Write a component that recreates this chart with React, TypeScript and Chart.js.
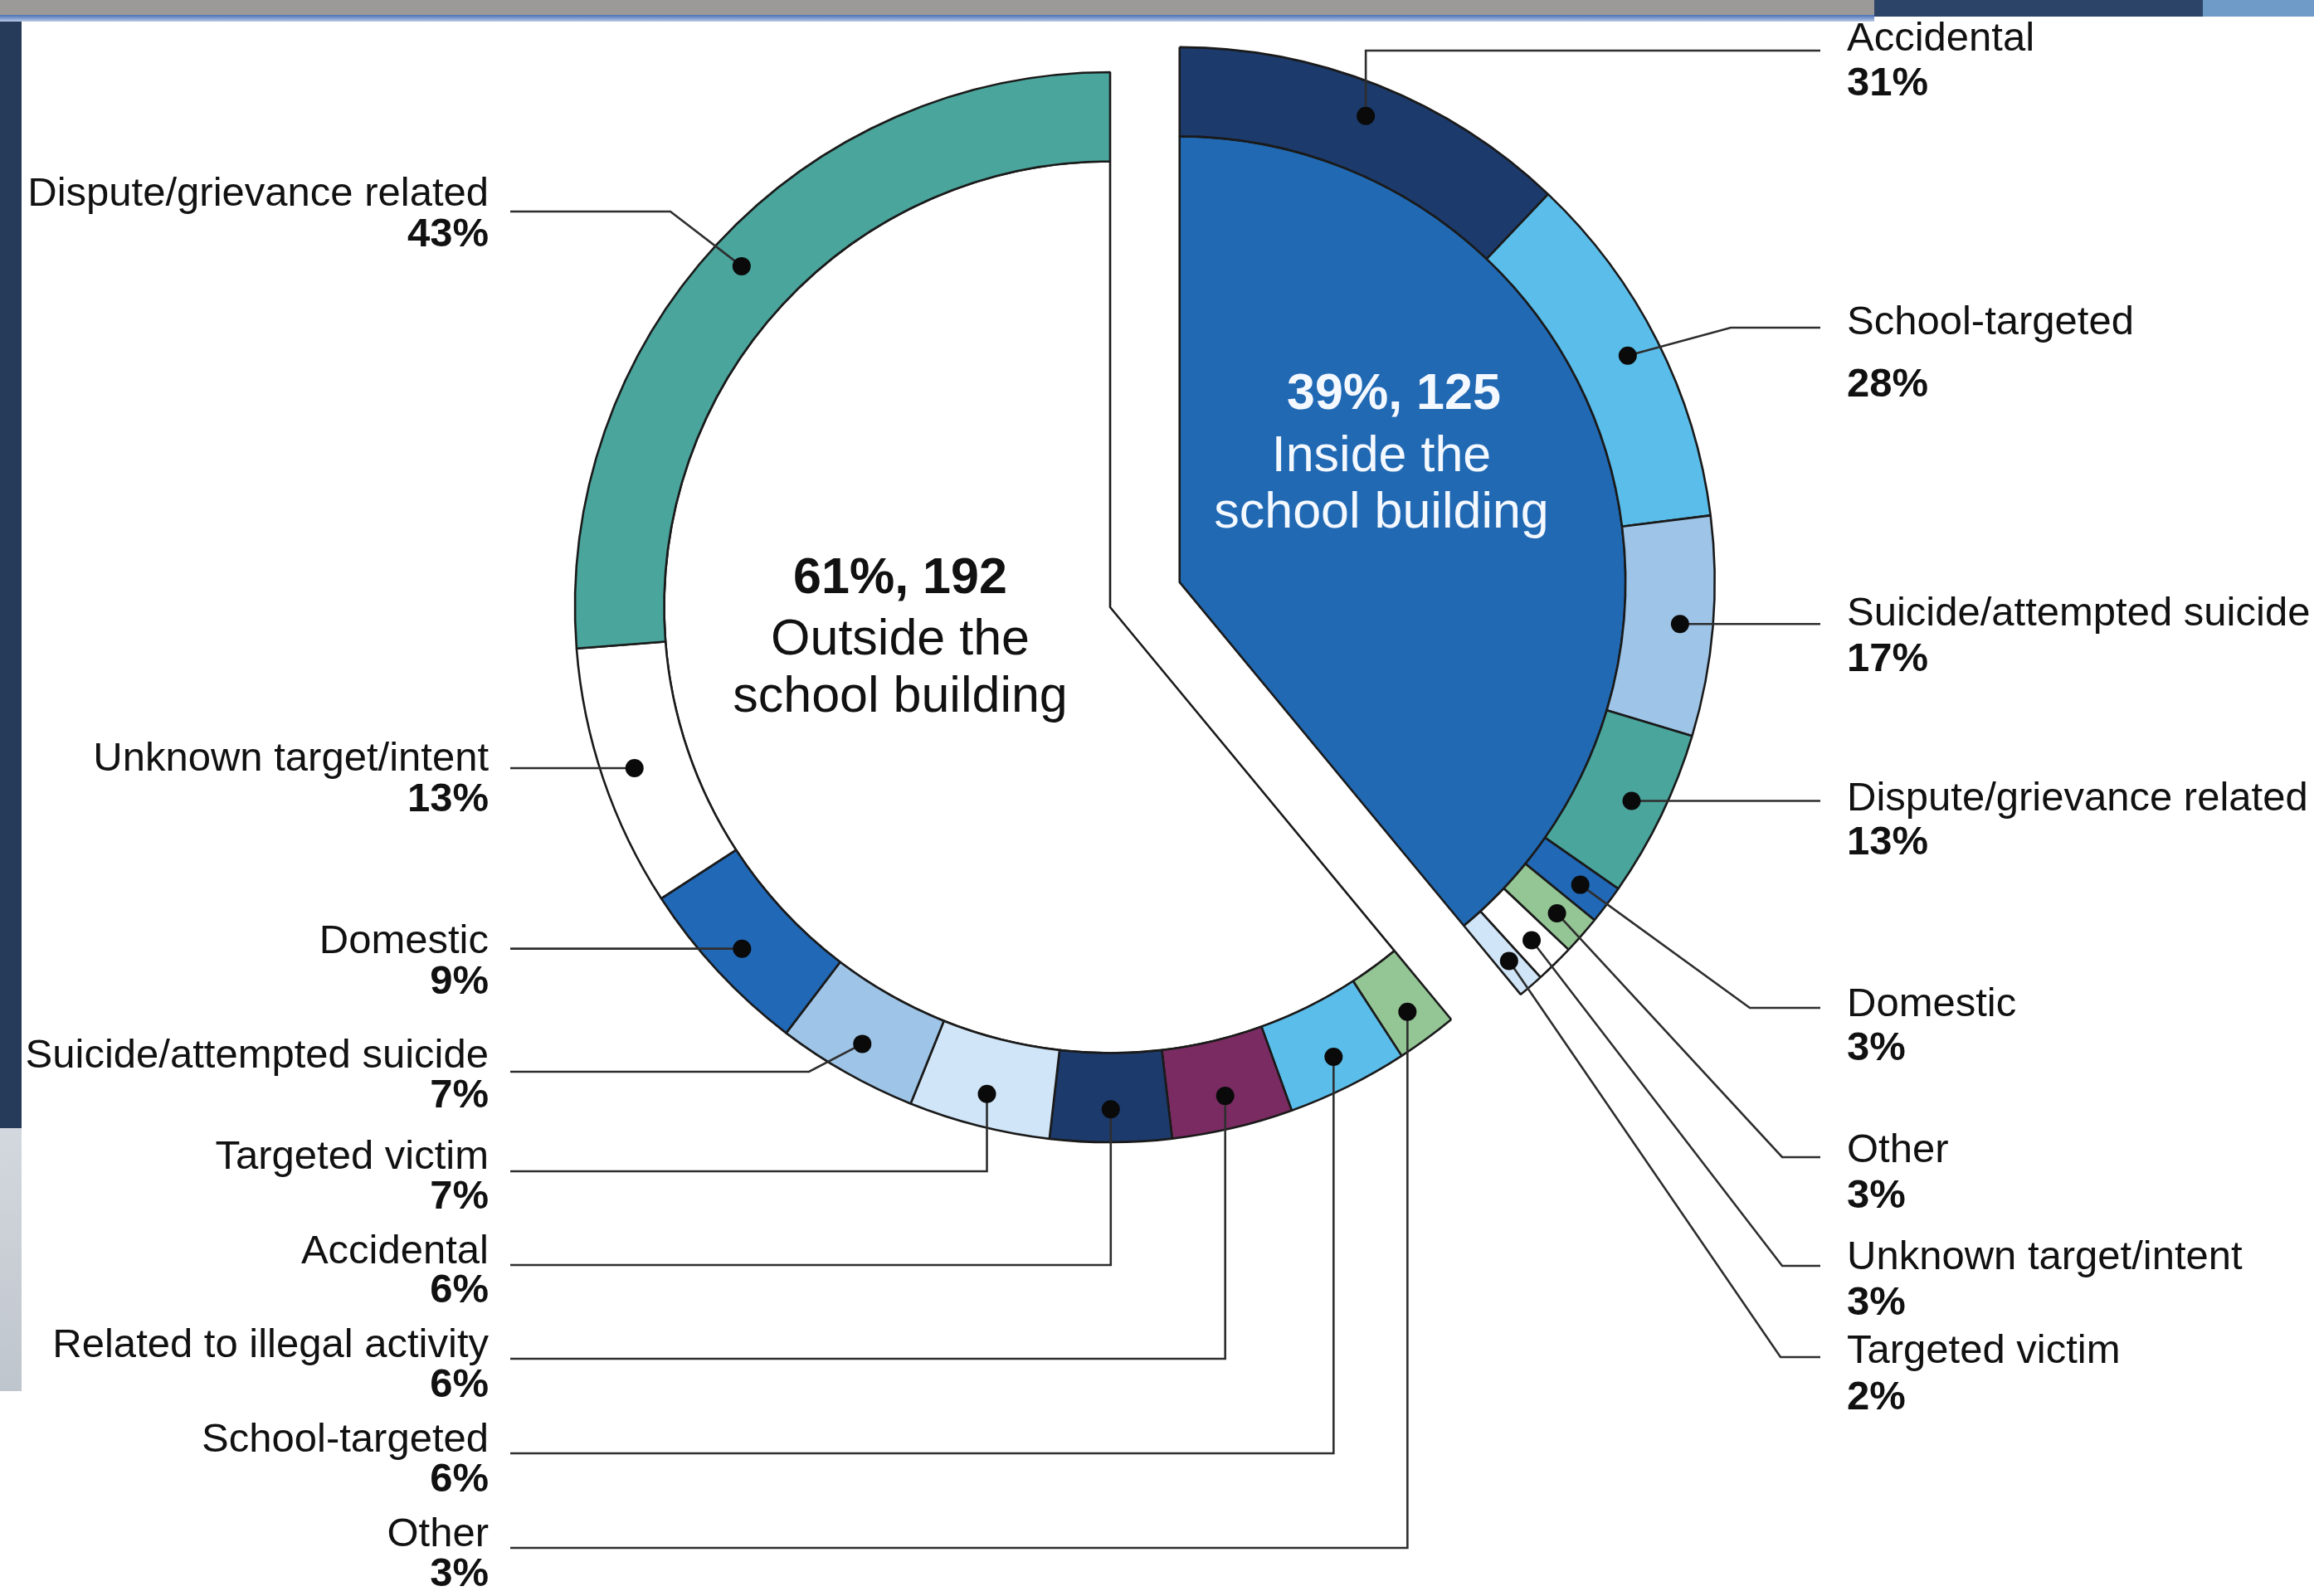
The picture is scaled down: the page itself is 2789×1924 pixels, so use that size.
import React, { useEffect, useRef } from "react";
import { Chart, registerables } from "chart.js";

Chart.register(...registerables);

// ---------------- data ----------------
const groupNames = ["Inside the school building", "Outside the school building"];
const groupPercents = [39, 61];
const groupCounts = [125, 192];

// inside group, clockwise from 12 o'clock
const insideCategories = [
  "Accidental",
  "School-targeted",
  "Suicide/attempted suicide",
  "Dispute/grievance related",
  "Domestic",
  "Other",
  "Unknown target/intent",
  "Targeted victim",
];
const insidePercents = [31, 28, 17, 13, 3, 3, 3, 2];

// outside group, clockwise (continuing after the inside group)
const outsideCategories = [
  "Other",
  "School-targeted",
  "Related to illegal activity",
  "Accidental",
  "Targeted victim",
  "Suicide/attempted suicide",
  "Domestic",
  "Unknown target/intent",
  "Dispute/grievance related",
];
const outsidePercents = [3, 6, 6, 6, 7, 7, 9, 13, 43];

// ---------------- styles / layout ----------------
const W = 2789;
const H = 1924;
const FONT = '"Liberation Sans", Arial, Helvetica, sans-serif';
const EXPLODE = 89;
const RADIUS = 645;
const CENTER_X = 1338;
const CENTER_Y = 732;
const HALF = 700;
const DOT_FRACTION = 0.63;

const categoryColors: Record<string, string> = {
  Accidental: "#1C3A6B",
  "School-targeted": "#5BBDEA",
  "Suicide/attempted suicide": "#9EC4E7",
  "Dispute/grievance related": "#4AA59C",
  Domestic: "#2168B6",
  Other: "#94C595",
  "Unknown target/intent": "#FFFFFF",
  "Targeted victim": "#D0E5F7",
  "Related to illegal activity": "#7A2C62",
};
const groupColors = ["#2169B3", "#FFFFFF"];

// left labels (outside group), same order as outsideCategories
const leftNameY = [1850, 1736, 1622, 1509, 1395, 1273, 1135, 915, 234];
const leftPctY = [1898, 1784, 1670, 1556, 1443, 1321, 1184, 964, 283];
const leftLineY = [1866, 1752, 1638, 1525, 1412, 1292, 1156, 936, 255];
const leftMode = ["v", "v", "v", "v", "v", "b", "d", "d", "b"];
const leftBendX = [0, 0, 0, 0, 0, 975, 0, 0, 808];
const LEFT_TEXT_X = 589;
const LEFT_LINE_X = 615;

// right labels (inside group), same order as insideCategories
const rightNameY = [47, 389, 740, 963, 1211, 1387, 1516, 1629];
const rightPctY = [101, 464, 795, 1016, 1264, 1442, 1571, 1685];
const rightLineY = [61, 395, 757, 967, 1215, 1395, 1526, 1636];
const rightMode = ["v", "b", "d", "d", "b", "b", "b", "b"];
const rightBendX = [0, 2086, 0, 0, 2109, 2148, 2148, 2146];
const RIGHT_TEXT_X = 2226;
const RIGHT_LINE_X = 2194;

// ---------------- plugins ----------------
const explodePlugin = {
  id: "explodeInside",
  afterDatasetsUpdate(chart: any) {
    const ringMeta = chart.getDatasetMeta(0);
    const pieMeta = chart.getDatasetMeta(1);
    const arc = pieMeta.data[0];
    if (!arc) return;
    const mid = (arc.startAngle + arc.endAngle) / 2;
    const dx = Math.cos(mid) * EXPLODE;
    const dy = Math.sin(mid) * EXPLODE;
    arc.x += dx;
    arc.y += dy;
    for (let i = 0; i < insidePercents.length; i++) {
      const el = ringMeta.data[i];
      el.x += dx;
      el.y += dy;
    }
  },
};

const dotOf = (el: any) => {
  const mid = (el.startAngle + el.endAngle) / 2;
  const r = el.innerRadius + (el.outerRadius - el.innerRadius) * DOT_FRACTION;
  return { x: el.x + Math.cos(mid) * r, y: el.y + Math.sin(mid) * r };
};

const annotatePlugin = {
  id: "annotate",
  afterDraw(chart: any) {
    const ctx: CanvasRenderingContext2D = chart.ctx;
    const ring = chart.getDatasetMeta(0).data;
    ctx.save();

    const leader = (p: any, lx: number, ly: number, mode: string, bx: number) => {
      ctx.beginPath();
      if (mode === "v") {
        ctx.moveTo(lx, ly);
        ctx.lineTo(p.x, ly);
        ctx.lineTo(p.x, p.y);
      } else if (mode === "b") {
        ctx.moveTo(lx, ly);
        ctx.lineTo(bx, ly);
        ctx.lineTo(p.x, p.y);
      } else {
        ctx.moveTo(lx, p.y);
        ctx.lineTo(p.x, p.y);
      }
      ctx.stroke();
    };

    ctx.strokeStyle = "#2e2e2e";
    ctx.lineWidth = 2.6;
    ctx.lineJoin = "miter";
    const dots: any[] = [];

    insideCategories.forEach((_, i) => {
      const p = dotOf(ring[i]);
      dots.push(p);
      leader(p, RIGHT_LINE_X, rightLineY[i], rightMode[i], rightBendX[i]);
    });
    outsideCategories.forEach((_, i) => {
      const p = dotOf(ring[insideCategories.length + i]);
      dots.push(p);
      leader(p, LEFT_LINE_X, leftLineY[i], leftMode[i], leftBendX[i]);
    });

    ctx.fillStyle = "#0a0a0a";
    dots.forEach((p) => {
      ctx.beginPath();
      ctx.arc(p.x, p.y, 11, 0, Math.PI * 2);
      ctx.fill();
    });

    // labels
    ctx.textBaseline = "middle";
    ctx.fillStyle = "#111111";
    ctx.textAlign = "right";
    outsideCategories.forEach((name, i) => {
      ctx.font = `49px ${FONT}`;
      ctx.fillText(name, LEFT_TEXT_X, leftNameY[i]);
      ctx.font = `bold 49px ${FONT}`;
      ctx.fillText(`${outsidePercents[i]}%`, LEFT_TEXT_X, leftPctY[i]);
    });
    ctx.textAlign = "left";
    insideCategories.forEach((name, i) => {
      ctx.font = `49px ${FONT}`;
      ctx.fillText(name, RIGHT_TEXT_X, rightNameY[i]);
      ctx.font = `bold 49px ${FONT}`;
      ctx.fillText(`${insidePercents[i]}%`, RIGHT_TEXT_X, rightPctY[i]);
    });

    // centre texts
    ctx.textAlign = "center";
    const insideWords = groupNames[0].split(" ");
    const outsideWords = groupNames[1].split(" ");
    ctx.fillStyle = "#F4F8FF";
    ctx.font = `bold 61px ${FONT}`;
    ctx.fillText(`${groupPercents[0]}%, ${groupCounts[0]}`, 1680, 476);
    ctx.font = `61px ${FONT}`;
    ctx.fillText(insideWords.slice(0, 2).join(" "), 1665, 551);
    ctx.fillText(insideWords.slice(2).join(" "), 1665, 619);

    ctx.fillStyle = "#111111";
    ctx.font = `bold 61px ${FONT}`;
    ctx.fillText(`${groupPercents[1]}%, ${groupCounts[1]}`, 1085, 698);
    ctx.font = `61px ${FONT}`;
    ctx.fillText(outsideWords.slice(0, 2).join(" "), 1085, 772);
    ctx.fillText(outsideWords.slice(2).join(" "), 1085, 841);

    ctx.restore();
  },
};

export default function App() {
  const canvasRef = useRef<HTMLCanvasElement | null>(null);

  useEffect(() => {
    const canvas = canvasRef.current;
    if (!canvas) return;

    const ringValues = [
      ...insidePercents.map((p) => (groupPercents[0] * p) / 100),
      ...outsidePercents.map((p) => (groupPercents[1] * p) / 100),
    ];
    const ringColors = [
      ...insideCategories.map((c) => categoryColors[c]),
      ...outsideCategories.map((c) => categoryColors[c]),
    ];

    const chart = new Chart(canvas, {
      type: "pie",
      data: {
        labels: [...insideCategories, ...outsideCategories],
        datasets: [
          {
            data: ringValues,
            backgroundColor: ringColors,
            borderColor: "#1a1a1a",
            borderWidth: 2.6,
            weight: 1,
          } as any,
          {
            data: groupPercents,
            backgroundColor: groupColors,
            borderColor: "#1a1a1a",
            borderWidth: 2.6,
            weight: 5,
          } as any,
        ],
      },
      options: {
        animation: false,
        responsive: false,
        maintainAspectRatio: false,
        events: [],
        radius: RADIUS,
        cutout: 0,
        layout: {
          padding: {
            left: CENTER_X - HALF,
            right: W - (CENTER_X + HALF),
            top: CENTER_Y - HALF,
            bottom: H - (CENTER_Y + HALF),
          },
        },
        plugins: {
          legend: { display: false },
          tooltip: { enabled: false },
        },
      } as any,
      plugins: [explodePlugin as any, annotatePlugin as any],
    });

    return () => chart.destroy();
  }, []);

  const abs = (s: React.CSSProperties): React.CSSProperties => ({ position: "absolute", ...s });

  return (
    <div
      style={{
        position: "fixed",
        left: 0,
        top: 0,
        width: W,
        height: H,
        background: "#ffffff",
        overflow: "hidden",
      }}
    >
      <div style={abs({ left: 0, top: 0, width: 2259, height: 18, background: "#9b9a98" })} />
      <div
        style={abs({
          left: 0,
          top: 18,
          width: 2259,
          height: 8,
          background: "linear-gradient(#4a6fb3, #b9c9e6)",
        })}
      />
      <div style={abs({ left: 2259, top: 0, width: 396, height: 20, background: "#2c4468" })} />
      <div style={abs({ left: 2655, top: 0, width: 134, height: 20, background: "#6f9bc9" })} />
      <div style={abs({ left: 0, top: 26, width: 26, height: 1334, background: "#263a5a" })} />
      <div
        style={abs({
          left: 0,
          top: 1360,
          width: 26,
          height: 317,
          background: "linear-gradient(#d3d8de, #bfc5cc)",
        })}
      />
      <canvas
        ref={canvasRef}
        width={W}
        height={H}
        style={{ position: "absolute", left: 0, top: 0, width: W, height: H }}
      />
    </div>
  );
}
